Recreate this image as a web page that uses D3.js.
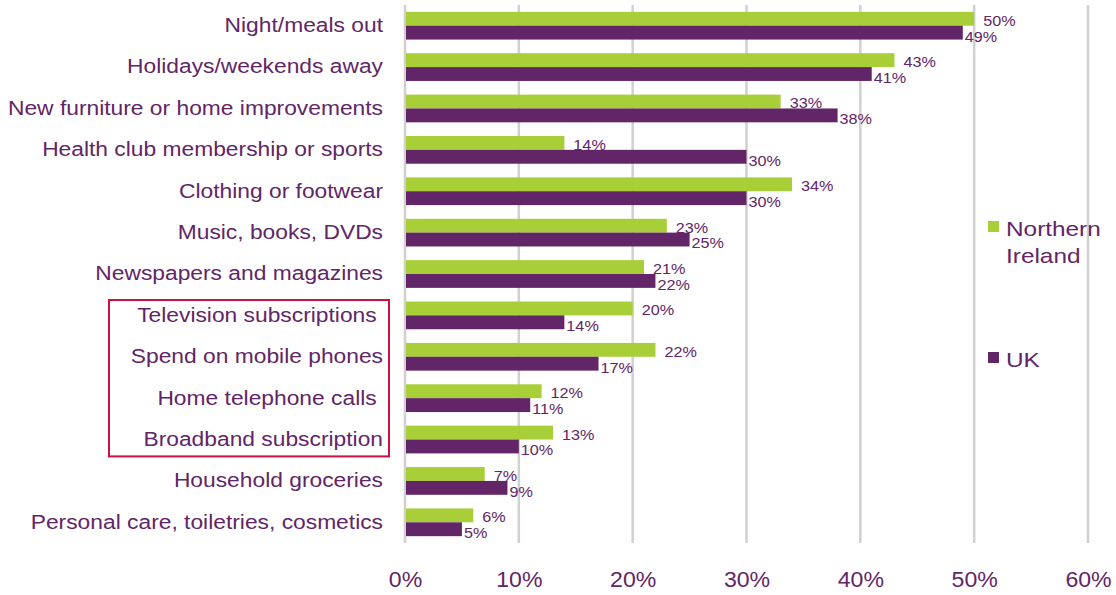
<!DOCTYPE html>
<html>
<head>
<meta charset="utf-8">
<script src="https://cdn.jsdelivr.net/npm/d3@7"></script>
<style>
  html, body { margin: 0; padding: 0; background: #fff; }
  svg { display: block; font-family: "Liberation Sans", Arial, sans-serif; }
  text { white-space: pre; }
</style>
</head>
<body>
<svg id="chart" width="1116" height="595"></svg>
<script>
// Spending categories, top to bottom
const categories = [
  "Night/meals out",
  "Holidays/weekends away",
  "New furniture or home improvements",
  "Health club membership or sports",
  "Clothing or footwear",
  "Music, books, DVDs",
  "Newspapers and magazines",
  "Television subscriptions ",
  "Spend on mobile phones",
  "Home telephone calls ",
  "Broadband subscription",
  "Household groceries",
  "Personal care, toiletries, cosmetics"
];
const northernIreland = [50, 43, 33, 14, 34, 23, 21, 20, 22, 12, 13, 7, 6];
const uk = [49, 41, 38, 30, 30, 25, 22, 14, 17, 11, 10, 9, 5];
const seriesNames = ["Northern\nIreland", "UK"];
const xTicks = [0, 10, 20, 30, 40, 50, 60];
// Communications categories outlined as a group
const highlighted = ["Television subscriptions ", "Home telephone calls ", "Spend on mobile phones", "Broadband subscription"];

const GREEN = "#a8cf38";
const PURPLE = "#622567";
const GRID = "#d0d0d0";

// Widen text horizontally (the typeface used here is set a little wide)
function widen(sel, k) {
  sel.each(function () {
    const w = this.getComputedTextLength();
    d3.select(this).attr("textLength", w * k).attr("lengthAdjust", "spacingAndGlyphs");
  });
}

const svg = d3.select("#chart");
const margin = { left: 405, right: 28, top: 5, bottom: 52 };
const W = 1116, H = 595;

const x = d3.scaleLinear().domain([0, 60]).range([margin.left, W - margin.right]);
const y = d3.scaleBand().domain(categories).range([margin.top, H - margin.bottom]).paddingInner(0.33).paddingOuter(0.165);
const sub = d3.scaleBand().domain(["ni", "uk"]).range([0, y.bandwidth()]);

// Vertical gridlines
svg.append("g").selectAll("line").data(xTicks).join("line")
  .attr("x1", d => x(d)).attr("x2", d => x(d))
  .attr("y1", margin.top).attr("y2", H - margin.bottom)
  .attr("stroke", GRID).attr("stroke-width", 2.5);

// Bottom axis labels
const xAxis = d3.axisBottom(x).tickValues(xTicks).tickFormat(d => d + "%").tickSize(0).tickPadding(0);
const gx = svg.append("g").attr("transform", `translate(0,${H - margin.bottom + 28})`).call(xAxis);
gx.select(".domain").remove();
gx.selectAll("text").attr("fill", PURPLE).attr("font-size", 22).attr("font-family", "Liberation Sans, Arial, sans-serif");
widen(gx.selectAll("text"), 1.05);

// Category labels
const yAxis = d3.axisLeft(y).tickSize(0).tickPadding(22);
const gy = svg.append("g").attr("transform", `translate(${margin.left},0)`).call(yAxis);
gy.select(".domain").remove();
gy.selectAll("text").attr("fill", PURPLE).attr("font-size", 20).attr("font-family", "Liberation Sans, Arial, sans-serif");
widen(gy.selectAll("text"), 1.14);

// Bars
const rows = categories.map((c, i) => ({ c, ni: northernIreland[i], uk: uk[i] }));
const g = svg.append("g");
g.selectAll("rect.ni").data(rows).join("rect").attr("class", "ni")
  .attr("x", x(0) + 1).attr("y", d => y(d.c) + sub("ni"))
  .attr("width", d => x(d.ni) - x(0) - 1).attr("height", sub.bandwidth())
  .attr("fill", GREEN);
g.selectAll("rect.uk").data(rows).join("rect").attr("class", "uk")
  .attr("x", x(0) + 1).attr("y", d => y(d.c) + sub("uk"))
  .attr("width", d => x(d.uk) - x(0) - 1).attr("height", sub.bandwidth())
  .attr("fill", PURPLE);

// Value labels
const niLabels = g.selectAll("text.ni").data(rows).join("text").attr("class", "ni")
  .attr("x", d => x(d.ni) + 9).attr("y", d => y(d.c) + sub("ni") + sub.bandwidth())
  .attr("fill", PURPLE).attr("font-size", 15).text(d => d.ni + "%");
const ukLabels = g.selectAll("text.uk").data(rows).join("text").attr("class", "uk")
  .attr("x", d => x(d.uk) + 2).attr("y", d => y(d.c) + sub("uk") + sub.bandwidth() + 2)
  .attr("fill", PURPLE).attr("font-size", 15).text(d => d.uk + "%");
widen(niLabels, 1.08);
widen(ukLabels, 1.08);

// Outline around the communications group
const hy = highlighted.map(c => y(c));
const boxTop = d3.min(hy) - 1.5;
const boxBottom = d3.max(hy) + y.bandwidth() + 3;
svg.append("rect")
  .attr("x", 109).attr("y", boxTop)
  .attr("width", 280).attr("height", boxBottom - boxTop)
  .attr("fill", "none").attr("stroke", "#cc1141").attr("stroke-width", 2);

// Legend
const legend = svg.append("g");
const legendY = [221, 352];
[GREEN, PURPLE].forEach((col, i) => {
  legend.append("rect").attr("x", 988).attr("y", legendY[i]).attr("width", 11).attr("height", 11).attr("fill", col);
  const t = legend.append("text").attr("x", 1006).attr("y", legendY[i] + 15)
    .attr("fill", PURPLE).attr("font-size", 21);
  seriesNames[i].split("\n").forEach((line, j) => {
    t.append("tspan").attr("x", 1006).attr("dy", j === 0 ? 0 : 27).text(line);
  });
  widen(t.selectAll("tspan"), 1.16);
});
</script>
</body>
</html>
